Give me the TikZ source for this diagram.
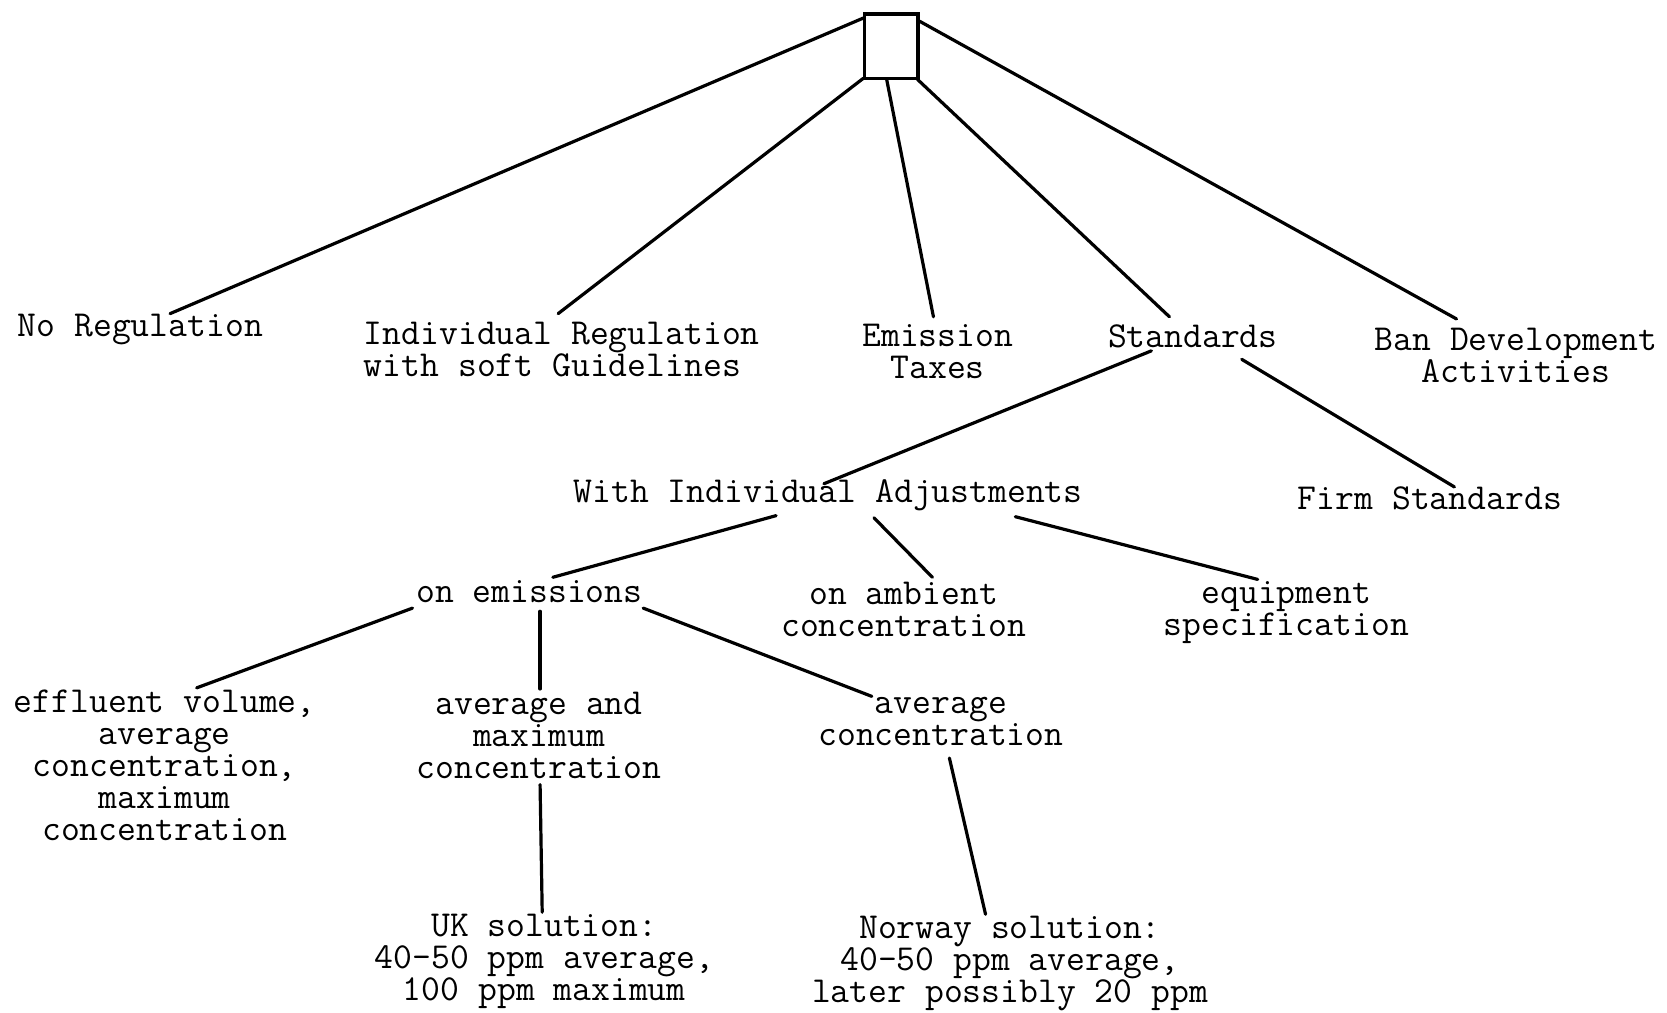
\documentclass[tikz,border=0pt]{standalone}
\usepackage{fontspec}
\usetikzlibrary{calc}
\begin{document}
\begin{tikzpicture}[x=0.53155pt,y=-0.53155pt,
  lbl/.style={inner sep=0pt, align=center, font=\ttfamily\addfontfeatures{FakeBold=0.8}\fontsize{18.3}{16}\selectfont},
  conn/.style={line width=1.6pt, line cap=round}]
\useasboundingbox (0,0) rectangle (1568,952);
% root box
\node[draw, line width=1.6pt, minimum width=26.6pt, minimum height=32.4pt, inner sep=0pt] (root) at (838.5,43.7) {};
% first level
\node[lbl] (noreg) at (132,310) {No Regulation};
\node[lbl, align=left] (indreg) at (528.5,329) {Individual Regulation\\with soft Guidelines};
\node[lbl] (emtax) at (882,331) {Emission\\Taxes};
\node[lbl] (std) at (1122,316) {Standards};
\node[lbl] (ban) at (1426,334) {Ban Development\\Activities};
% second level
\node[lbl] (wia) at (779,466) {With Individual Adjustments};
\node[lbl] (firm) at (1345,469) {Firm Standards};
% third level
\node[lbl] (onem) at (498,556) {on emissions};
\node[lbl] (onamb) at (850,573) {on ambient\\concentration};
\node[lbl] (equip) at (1210,576) {equipment\\specification};
% fourth level
\node[lbl] (eff) at (155,720) {effluent volume,\\average\\concentration,\\maximum\\concentration};
\node[lbl] (avgmax) at (507,692) {average and\\maximum\\concentration};
\node[lbl] (avgc) at (885,679) {average\\concentration};
% fifth level
\node[lbl] (uk) at (512,904) {UK solution:\\40-50 ppm average,\\100 ppm maximum};
\node[lbl] (nor) at (950,906) {Norway solution:\\40-50 ppm average,\\later possibly 20 ppm};
% connectors
\draw[conn] ($(root)+(-26.5,-26.7)$) -- ($(noreg)+(28,-15)$);
\draw[conn] ($(root)+(-26.5,30)$) -- ($(indreg)+(-3.5,-34)$);
\draw[conn] ($(root)+(-4.5,31)$) -- ($(emtax)+(-4,-33)$);
\draw[conn] ($(root)+(24.5,31)$) -- ($(std)+(-22,-18)$);
\draw[conn] ($(root)+(26.5,-23.7)$) -- ($(ban)+(-56,-34)$);
\draw[conn] ($(std)+(-39,14)$) -- ($(wia)+(-4,-11)$);
\draw[conn] ($(std)+(46,22)$) -- ($(firm)+(23,-11)$);
\draw[conn] ($(wia)+(-49,19)$) -- ($(onem)+(22,-13)$);
\draw[conn] ($(wia)+(43,21)$) -- ($(onamb)+(27,-30)$);
\draw[conn] ($(wia)+(176,20)$) -- ($(equip)+(-27,-31)$);
\draw[conn] ($(onem)+(-110,16)$) -- ($(eff)+(30,-73)$);
\draw[conn] ($(onem)+(10,19)$) -- ($(avgmax)+(1,-44)$);
\draw[conn] ($(onem)+(107,16)$) -- ($(avgc)+(-65,-24)$);
\draw[conn] ($(avgmax)+(1,46)$) -- ($(uk)+(-2,-46)$);
\draw[conn] ($(avgc)+(8,34)$) -- ($(nor)+(-23,-46)$);
\end{tikzpicture}
\end{document}
